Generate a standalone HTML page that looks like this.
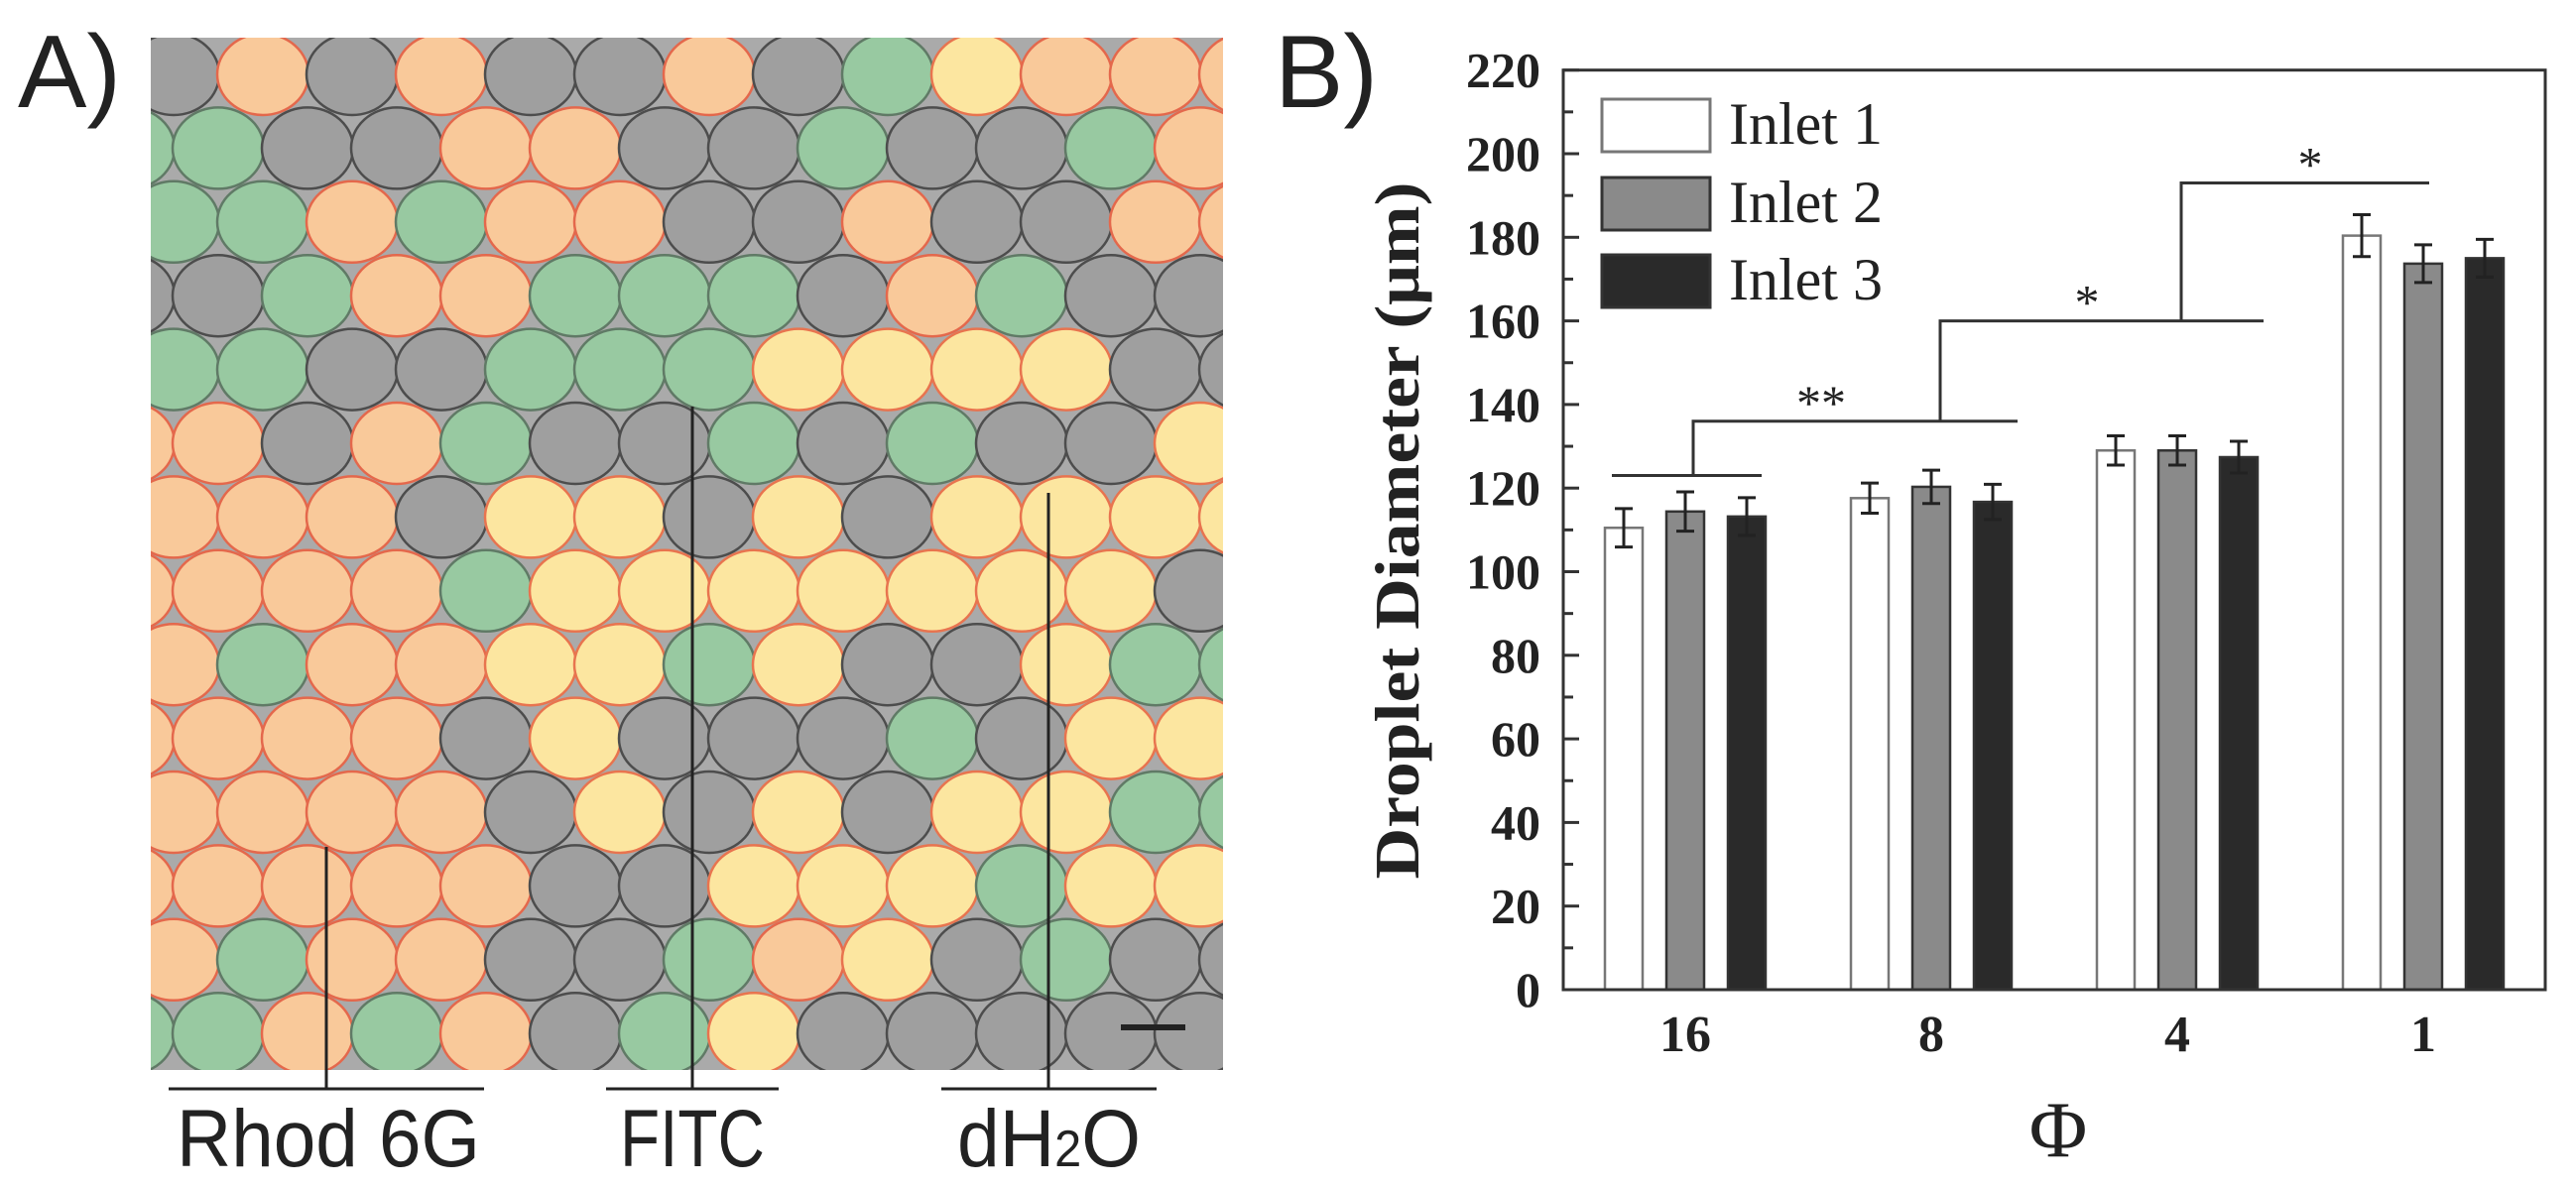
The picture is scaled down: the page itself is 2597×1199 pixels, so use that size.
<!DOCTYPE html>
<html><head><meta charset="utf-8"><style>
html,body{margin:0;padding:0;background:#fff;}
svg{display:block;}
</style></head><body>
<svg id="fig" width="2597" height="1199" viewBox="0 0 2597 1199" xmlns="http://www.w3.org/2000/svg">
<rect width="2597" height="1199" fill="#ffffff"/>
<text x="18" y="108" font-family="Liberation Sans, sans-serif" font-size="104" fill="#222">A)</text>
<text x="1285" y="108" font-family="Liberation Sans, sans-serif" font-size="104" fill="#222">B)</text>
<defs><clipPath id="imgclip"><rect x="152" y="38" width="1081" height="1041"/></clipPath></defs>
<g id="micro" clip-path="url(#imgclip)">
<rect x="152" y="38" width="1081" height="1041" fill="#aaaaaa"/>
</g>
<rect x="1130" y="1033" width="65" height="6" fill="#222"/>
<g id="annot" stroke="#222" stroke-width="3">
<line x1="170" y1="1098" x2="488" y2="1098"/>
<line x1="329" y1="854" x2="329" y2="1098"/>
<line x1="611" y1="1098" x2="785" y2="1098"/>
<line x1="698" y1="410" x2="698" y2="1098"/>
<line x1="949" y1="1098" x2="1166" y2="1098"/>
<line x1="1057" y1="497" x2="1057" y2="1098"/>
</g>
<g font-family="Liberation Sans, sans-serif" font-size="82" fill="#222">
<text x="178" y="1176" textLength="306" lengthAdjust="spacingAndGlyphs">Rhod 6G</text>
<text x="625" y="1176" textLength="146" lengthAdjust="spacingAndGlyphs">FITC</text>
<text x="965" y="1176" textLength="185" lengthAdjust="spacingAndGlyphs">dH<tspan font-size="52">2</tspan>O</text>
</g>
<g id="chart"></g>
</svg>
<script>
const NS='http://www.w3.org/2000/svg';
// ---------- chart data ----------
const categories=['16','8','4','1'];
const seriesNames=['Inlet 1','Inlet 2','Inlet 3'];
const inlet1=[110.5,117.6,129,180.4];
const inlet2=[114.4,120.3,129,173.7];
const inlet3=[113.2,116.7,127.4,175];
const err1=[4.6,3.6,3.5,5];
const err2=[4.7,4,3.5,4.5];
const err3=[4.5,4.2,3.8,4.5];
const yTicks=[0,20,40,60,80,100,120,140,160,180,200,220];
const bracketLevels=[123,136,160,193];
const starLabels=['**','*','*'];
// ---------- micrograph colour map ----------
const dropletRows=[
'aoaoaaoaGyoo','GaaooaaGaaGo','GGoGooaaoaao','aGooGGGaoGaa',
'GGaaGGGyyyya','oaoGaaGaGaay','oooayyayayyy','oooGyyyyyyya',
'oGooyyGyaayG','oooayaaaGayy','ooooayayayyG','ooooaayyyGyy',
'oGooaaGoyaGa','GoGoaGyaaaaa'];

function mk(tag,attrs,parent){const e=document.createElementNS(NS,tag);for(const k in attrs)e.setAttribute(k,attrs[k]);parent.appendChild(e);return e;}

// micrograph
const micro=document.getElementById('micro');
const fills={a:'#9f9f9f',G:'#98c9a1',o:'#f9c99a',y:'#fce6a0'};
const strokes={a:'#4d4d4d',G:'#607a66',o:'#e4684c',y:'#e8744f'};
dropletRows.forEach((row,r)=>{
  for(let c=-1;c<=row.length;c++){
    const ch=row[Math.max(0,Math.min(row.length-1,c))];
    const cx=152+45+c*90+(r%2?45:0)-22;
    const cy=38+37+r*74.4;
    const d=mk('ellipse',{cx:cx,cy:cy,rx:46,ry:41,fill:fills[ch],stroke:strokes[ch],'stroke-width':2.5},micro);
    
    
  }
});

// chart
const chart=document.getElementById('chart');
const y0=998, pxPerUnit=4.215;
function yS(v){return y0-v*pxPerUnit;}
function xC(i){return 1699+i*248;}
const barOff=[-62,0,62], barW=38;
const barFill=['#ffffff','#8a8a8a','#2a2a2a'];
const series=[inlet1,inlet2,inlet3], errs=[err1,err2,err3];
const AX_L=1576, AX_R=2566, AX_T=yS(220), AX_B=y0;

// bars
series.forEach((vals,s)=>{
  vals.forEach((v,i)=>{
    const x=xC(i)+barOff[s]-barW/2;
    const b=mk('rect',{x:x,y:yS(v),width:barW,height:y0-yS(v),fill:barFill[s],stroke:s===0?'#777':'#333','stroke-width':2.5},chart);
    
    
    const cx=xC(i)+barOff[s], e=errs[s][i];
    const g=mk('path',{d:`M${cx},${yS(v+e)}V${yS(v-e)}M${cx-9},${yS(v+e)}H${cx+9}M${cx-9},${yS(v-e)}H${cx+9}`,stroke:'#222','stroke-width':3,fill:'none'},chart);
    
    
  });
});

// axes frame
const fr=mk('rect',{x:AX_L,y:AX_T,width:AX_R-AX_L,height:AX_B-AX_T,fill:'none',stroke:'#333','stroke-width':3},chart);



// y ticks
yTicks.forEach((t,k)=>{
  const tk=mk('line',{x1:AX_L,x2:AX_L+16,y1:yS(t),y2:yS(t),stroke:'#333','stroke-width':3},chart);
  
  
  if(k<yTicks.length-1){
    const m=(t+yTicks[k+1])/2;
    const mt=mk('line',{x1:AX_L,x2:AX_L+10,y1:yS(m),y2:yS(m),stroke:'#333','stroke-width':3},chart);
    
    
  }
  const lb=mk('text',{x:1553,y:yS(t)+17,'text-anchor':'end','font-family':'Liberation Serif, serif','font-weight':'bold','font-size':50,fill:'#222'},chart);
  lb.textContent=t;
  
  
});

// x labels
categories.forEach((c,i)=>{
  const lb=mk('text',{x:xC(i),y:1060,'text-anchor':'middle','font-family':'Liberation Serif, serif','font-weight':'bold','font-size':52,fill:'#222'},chart);
  lb.textContent=c;
  
  
});

// axis titles
const yt=mk('text',{x:0,y:0,transform:'translate(1430,535) rotate(-90)','text-anchor':'middle','font-family':'Liberation Serif, serif','font-weight':'bold','font-size':64,fill:'#222',textLength:703,lengthAdjust:'spacingAndGlyphs'},chart);
yt.textContent='Droplet Diameter (\u03bcm)';


const xt=mk('text',{x:2075,y:1166,'text-anchor':'middle','font-family':'Liberation Serif, serif','font-size':80,fill:'#222'},chart);
xt.textContent='\u03a6';



// significance brackets
const L=bracketLevels;
const bp=[
  `M${xC(0)-74},${yS(L[0])}H${xC(0)+77}`,
  `M${xC(0)+8},${yS(L[0])}V${yS(L[1])}H${xC(1)+87}`,
  `M${xC(1)+9},${yS(L[1])}V${yS(L[2])}H${xC(2)+87}`,
  `M${xC(2)+4},${yS(L[2])}V${yS(L[3])}H${xC(3)+6}`];
bp.forEach(d=>{
  const p=mk('path',{d:d,stroke:'#333','stroke-width':3,fill:'none'},chart);
  
  
});
const starX=[xC(0)+137,xC(1)+157,xC(2)+134];
starLabels.forEach((s,k)=>{
  const t=mk('text',{x:starX[k],y:yS(L[k+1])-2,'text-anchor':'middle','font-family':'Liberation Serif, serif','font-size':50,fill:'#222'},chart);
  t.textContent=s;
  
  
});

// legend
const legY=[100,179,257];
seriesNames.forEach((n,s)=>{
  const r=mk('rect',{x:1615,y:legY[s],width:109,height:53,fill:barFill[s],stroke:s===0?'#777':'#333','stroke-width':3},chart);
  
  
  const t=mk('text',{x:1743,y:legY[s]+45,'font-family':'Liberation Serif, serif','font-size':60,fill:'#222'},chart);
  t.textContent=n;
  
  
});
</script>
</body></html>
